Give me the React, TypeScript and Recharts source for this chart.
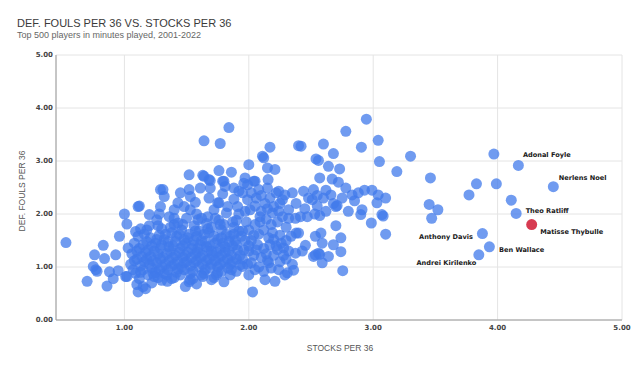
import React from 'react';
import { ScatterChart, Scatter, XAxis, YAxis, CartesianGrid } from 'recharts';

// [stocks per 36, def. fouls per 36]
const otherPlayers: [number, number][] = [
  // far left edge
  [0.53, 1.46], [0.70, 0.73], [0.76, 1.23], [0.75, 1.01], [0.77, 0.95], [0.78, 0.92], [0.83, 1.41],
  [0.84, 1.16], [0.86, 0.64], [0.88, 0.91], [0.91, 0.78], [0.93, 1.23], [0.95, 0.93], [0.96, 1.58],
  [1.00, 2.00], [1.02, 1.81], [1.01, 0.82], [1.03, 1.36], [1.11, 0.53], [1.17, 0.59], [1.12, 2.15],
  [1.20, 1.99], [1.09, 1.67], [1.29, 2.46], [1.26, 1.89],
  // main blob
  [1.05, 1.05], [1.06, 1.25], [1.08, 1.45], [1.07, 0.95], [1.10, 1.15], [1.12, 1.35], [1.11, 1.58],
  [1.09, 0.88], [1.12, 0.78], [1.13, 1.72],
  [1.15, 0.95], [1.16, 1.10], [1.17, 1.28], [1.18, 1.48], [1.16, 1.62], [1.20, 1.05], [1.21, 1.20],
  [1.19, 0.85], [1.22, 1.40], [1.20, 1.78], [1.22, 0.98],
  [1.25, 0.90], [1.26, 1.08], [1.27, 1.25], [1.25, 1.45], [1.28, 1.60], [1.30, 1.00], [1.31, 1.18],
  [1.29, 1.35], [1.32, 1.52], [1.30, 1.72], [1.27, 0.80], [1.32, 0.88], [1.28, 2.00],
  [1.35, 0.95], [1.36, 1.12], [1.37, 1.30], [1.35, 1.48], [1.38, 1.65], [1.40, 1.05], [1.41, 1.22],
  [1.39, 1.40], [1.42, 1.58], [1.40, 1.80], [1.36, 1.95], [1.42, 0.90], [1.38, 0.78],
  [1.45, 0.85], [1.46, 1.00], [1.47, 1.18], [1.45, 1.35], [1.48, 1.52], [1.46, 1.70], [1.50, 1.10],
  [1.51, 1.28], [1.49, 1.45], [1.52, 1.62], [1.50, 1.92], [1.52, 0.72], [1.48, 0.95],
  [1.55, 0.92], [1.56, 1.08], [1.57, 1.25], [1.55, 1.42], [1.58, 1.58], [1.56, 1.78], [1.60, 1.00],
  [1.61, 1.18], [1.59, 1.35], [1.62, 1.50], [1.60, 1.68], [1.62, 0.85], [1.58, 2.00], [1.57, 2.22],
  [1.65, 0.95], [1.66, 1.12], [1.67, 1.30], [1.65, 1.48], [1.68, 1.65], [1.66, 1.82], [1.70, 1.05],
  [1.71, 1.22], [1.69, 1.40], [1.72, 1.58], [1.70, 1.75], [1.72, 0.80], [1.68, 2.30], [1.73, 1.92],
  [1.75, 1.00], [1.76, 1.18], [1.77, 1.35], [1.75, 1.52], [1.78, 1.70], [1.76, 1.88], [1.80, 1.10],
  [1.81, 1.28], [1.79, 1.45], [1.82, 1.62], [1.80, 1.80], [1.78, 0.92], [1.82, 2.02], [1.79, 2.38],
  [1.85, 1.05], [1.86, 1.22], [1.87, 1.40], [1.85, 1.58], [1.88, 1.75], [1.90, 1.15], [1.91, 1.32],
  [1.89, 1.50], [1.92, 1.68], [1.90, 1.88], [1.86, 0.95], [1.92, 2.00], [1.88, 2.28],
  [1.95, 1.15], [1.96, 1.32], [1.97, 1.50], [1.95, 1.68], [1.98, 1.85], [1.99, 1.05], [2.00, 1.40],
  [1.97, 2.05], [1.96, 2.58],
  // blob core, overlapping
  [1.08, 1.12], [1.10, 1.30], [1.13, 1.02], [1.14, 1.20], [1.15, 1.42], [1.18, 1.15], [1.19, 1.32],
  [1.21, 1.55], [1.23, 1.12], [1.24, 1.30], [1.26, 1.52], [1.28, 0.95], [1.29, 1.15], [1.30, 1.42],
  [1.33, 1.05], [1.34, 1.25], [1.33, 1.62], [1.36, 1.38], [1.38, 1.02], [1.39, 1.18], [1.41, 1.48],
  [1.43, 1.10], [1.44, 1.28], [1.44, 1.62], [1.47, 1.40], [1.48, 1.08], [1.49, 1.22], [1.51, 1.55],
  [1.53, 1.02], [1.54, 1.18], [1.54, 1.35], [1.56, 1.50], [1.58, 1.12], [1.59, 1.28], [1.61, 1.42],
  [1.63, 1.05], [1.63, 1.22], [1.64, 1.62], [1.66, 1.38], [1.68, 1.15], [1.69, 0.98], [1.70, 1.30],
  [1.73, 1.45], [1.73, 1.12], [1.74, 1.28], [1.77, 1.05], [1.78, 1.22], [1.78, 1.55], [1.81, 1.38],
  [1.83, 1.15], [1.84, 1.48], [1.84, 1.30], [1.87, 1.10], [1.88, 1.62], [1.90, 1.42], [1.93, 1.22],
  [1.94, 1.58], [1.13, 0.90], [1.23, 0.88], [1.34, 0.85], [1.43, 0.96], [1.53, 0.88], [1.64, 0.88],
  [1.74, 0.85], [1.83, 0.98], [1.18, 1.70], [1.27, 1.78], [1.37, 1.75], [1.47, 1.80], [1.57, 1.68],
  [1.67, 1.72], [1.77, 1.80], [1.87, 1.85], [1.62, 1.92], [1.40, 1.92],
  // upper part of blob
  [1.31, 2.46], [1.32, 2.33], [1.45, 2.40], [1.52, 2.46], [1.61, 2.49], [1.69, 2.49], [1.81, 2.52],
  [1.88, 2.49], [1.95, 2.40], [1.99, 2.27], [1.76, 2.21], [1.83, 2.14], [1.91, 2.14], [2.01, 2.08],
  [1.11, 2.14], [1.29, 2.14], [1.40, 2.08], [1.48, 2.14], [1.53, 2.08], [1.43, 1.83], [1.59, 1.89],
  [1.67, 1.95], [1.72, 2.08], [1.64, 2.71], [1.43, 2.21], [1.53, 2.33], [1.68, 2.65], [1.79, 2.62],
  [1.92, 2.43], [1.75, 2.21],
  // bottom of blob
  [1.49, 0.63], [1.345, 0.73], [1.63, 0.82], [1.85, 0.85], [1.95, 1.01], [1.75, 0.89], [1.24, 0.82],
  [1.02, 0.82], [1.10, 0.67], [1.15, 0.63], [1.22, 0.70], [1.30, 0.75], [1.40, 0.80], [1.55, 0.78],
  [1.70, 0.76], [1.80, 0.72], [1.90, 0.92], [2.00, 0.85], [1.58, 0.68], [1.53, 0.76], [1.93, 1.04],
  // upper scattered
  [1.84, 3.63], [1.64, 3.38], [1.77, 3.33], [2.00, 2.93], [2.11, 3.09], [2.12, 3.06], [2.17, 3.26],
  [2.40, 3.29], [2.42, 3.28], [2.60, 3.32], [2.68, 3.14], [2.78, 3.56], [2.945, 3.79], [2.905, 3.26],
  [3.04, 3.39], [3.05, 2.99], [3.19, 2.80], [3.30, 3.09], [2.54, 3.04], [2.56, 3.01], [2.64, 2.90],
  [2.73, 2.85], [2.15, 2.87], [2.21, 2.84], [1.52, 2.74], [1.63, 2.73], [1.76, 2.82], [1.86, 2.79],
  [1.69, 2.63], [1.80, 2.62], [1.97, 2.68], [2.04, 2.62], [2.08, 2.46], [2.15, 2.49], [2.155, 2.65],
  // second cluster
  [2.57, 2.68], [2.67, 2.66], [2.72, 2.60], [2.78, 2.49], [2.83, 2.36], [2.93, 2.45], [2.99, 2.45],
  [3.04, 2.36], [3.10, 2.30], [3.03, 2.21], [3.07, 1.99], [3.08, 1.96], [3.10, 1.62], [2.985, 1.83],
  [2.90, 1.99], [2.91, 2.08], [2.80, 2.05], [2.70, 2.14], [2.71, 2.16], [2.70, 1.78], [2.74, 1.55],
  [2.74, 1.29], [2.755, 0.93], [2.68, 1.42], [2.66, 2.36], [2.57, 1.97], [2.58, 1.64], [2.535, 1.58],
  [2.59, 1.45], [2.52, 1.20], [2.59, 1.08], [2.56, 1.26], [2.57, 1.24], [2.455, 1.41], [2.40, 1.64],
  [2.415, 1.95], [2.47, 1.95], [2.375, 1.92], [2.32, 1.92], [2.51, 2.27], [2.44, 2.43], [2.52, 2.46],
  [2.35, 2.40], [2.29, 2.36], [2.24, 2.43], [2.27, 2.27], [2.32, 2.08], [2.20, 2.14], [2.19, 2.02],
  [2.09, 1.95], [2.05, 2.62], [2.38, 1.64], [2.28, 1.36], [2.375, 1.26], [2.23, 1.33], [2.20, 1.52],
  [2.16, 1.08], [2.05, 0.95], [2.13, 0.76], [2.21, 0.73], [2.29, 0.85], [2.36, 0.94], [2.03, 0.53],
  [2.535, 1.23], [2.64, 1.20], [2.31, 0.89],
  [1.99, 2.55], [2.02, 2.40], [2.06, 2.30], [2.10, 2.35], [2.13, 2.20], [2.17, 2.30], [2.22, 2.40],
  [2.25, 2.20], [2.05, 2.15], [2.10, 2.05], [2.14, 1.90], [2.18, 1.80], [2.23, 1.85], [2.27, 1.95],
  [2.30, 1.75], [2.05, 1.80], [2.00, 1.70], [2.08, 1.62], [2.12, 1.70], [2.16, 1.55], [2.25, 1.60],
  [2.30, 1.50], [2.34, 1.58], [2.02, 1.50], [2.07, 1.42], [2.12, 1.35], [2.17, 1.42], [2.26, 1.45],
  [2.32, 1.30], [2.00, 1.30], [2.04, 1.22], [2.10, 1.18], [2.14, 1.25], [2.20, 1.22], [2.25, 1.10],
  [2.30, 1.15], [2.35, 1.05], [2.02, 1.08], [2.08, 1.00], [2.12, 0.92], [2.18, 0.98], [2.24, 0.95],
  [2.45, 2.10], [2.38, 2.20], [2.48, 2.30], [2.55, 2.15], [2.60, 2.30], [2.62, 2.05], [2.53, 2.00],
  [2.85, 2.25], [2.88, 2.40], [2.75, 2.30], [2.62, 2.45], [2.55, 2.35], [2.68, 2.20], [2.43, 1.30],
  [2.06, 1.32], [2.15, 1.12], [2.22, 1.40], [2.28, 1.22], [2.04, 1.60], [2.19, 1.65], [2.09, 1.85],
  [2.15, 2.10], [2.24, 2.05],
  // right side
  [3.46, 2.68], [3.97, 3.13], [3.83, 2.57], [3.77, 2.36], [3.99, 2.57], [4.11, 2.26], [3.45, 2.18],
  [3.52, 2.08], [3.47, 1.92],
];

const labeledNames = ['Adonal Foyle', 'Nerlens Noel', 'Theo Ratliff', 'Anthony Davis', 'Ben Wallace', 'Andrei Kirilenko'];
const labeledStocks = [4.167, 4.448, 4.149, 3.878, 3.934, 3.849];
const labeledFouls = [2.917, 2.515, 2.01, 1.63, 1.38, 1.23];

const highlightName = 'Matisse Thybulle';
const highlightStocks = 4.274;
const highlightFouls = 1.8;

const xTicks = [1, 2, 3, 4, 5];
const yTicks = [0, 1, 2, 3, 4, 5];

// label placement next to each named dot (px)
const labelOffsets: Record<string, { dx: number; dy: number; anchor: 'start' | 'end' }> = {
  'Adonal Foyle': { dx: 4.5, dy: -10, anchor: 'start' },
  'Nerlens Noel': { dx: 5.5, dy: -8.5, anchor: 'start' },
  'Theo Ratliff': { dx: 9.5, dy: -2.5, anchor: 'start' },
  'Anthony Davis': { dx: -9.5, dy: 3.5, anchor: 'end' },
  'Ben Wallace': { dx: 9.5, dy: 2.8, anchor: 'start' },
  'Andrei Kirilenko': { dx: -2.5, dy: 8, anchor: 'end' },
  'Matisse Thybulle': { dx: 8.5, dy: 7.5, anchor: 'start' },
};

const others = otherPlayers.map(([x, y]) => ({ x, y }));
const labeled = labeledNames.map((name, i) => ({ name, x: labeledStocks[i], y: labeledFouls[i] }));
const highlight = [{ name: highlightName, x: highlightStocks, y: highlightFouls }];

const BLUE = '#407aeb';
const R = 5.5;

const PlainDot = (props: any) => (
  <circle cx={props.cx} cy={props.cy} r={R} fill={BLUE} fillOpacity={0.75} />
);

function makeLabeledDot(color: string, opacity: number) {
  return (props: any) => {
    const { cx, cy, payload } = props;
    const off = labelOffsets[payload.name];
    return (
      <g>
        <circle cx={cx} cy={cy} r={R} fill={color} fillOpacity={opacity} />
        {off && (
          <text
            x={cx + off.dx}
            y={cy + off.dy}
            textAnchor={off.anchor}
            dominantBaseline="central"
            fontFamily="DejaVu Sans"
            fontWeight={700}
            fontSize={6.6}
            fill="#1a1a1a"
          >
            {payload.name}
          </text>
        )}
      </g>
    );
  };
}

const tickStyle = { fontSize: 7, fontFamily: 'DejaVu Sans', fontWeight: 700, fill: '#444' };

export default function App() {
  return (
    <div style={{ position: 'absolute', left: 0, top: 0, width: 640, height: 369, background: '#fff' }}>
      <ScatterChart width={640} height={369} margin={{ top: 55, right: 18, bottom: 19, left: 0 }}>
        <CartesianGrid stroke="#e4e4e4" />
        <XAxis
          type="number"
          dataKey="x"
          domain={[0.45, 5]}
          ticks={xTicks}
          tickFormatter={(v: number) => v.toFixed(2)}
          allowDataOverflow
          height={30}
          tickSize={0}
          tickMargin={5}
          tickLine={false}
          axisLine={{ stroke: '#9a9a9a' }}
          tick={tickStyle}
        />
        <YAxis
          type="number"
          dataKey="y"
          domain={[0, 5]}
          ticks={yTicks}
          tickFormatter={(v: number) => v.toFixed(2)}
          allowDataOverflow
          width={56}
          tickSize={0}
          tickMargin={3}
          tickLine={false}
          axisLine={{ stroke: '#9a9a9a' }}
          tick={tickStyle}
        />
        <Scatter data={others} shape={PlainDot} isAnimationActive={false} />
        <Scatter data={labeled} shape={makeLabeledDot(BLUE, 0.75)} isAnimationActive={false} />
        <Scatter data={highlight} shape={makeLabeledDot('#d42a42', 0.92)} isAnimationActive={false} />
      </ScatterChart>
      <svg
        width={640}
        height={369}
        style={{ position: 'absolute', left: 0, top: 0, pointerEvents: 'none' }}
      >
        <text x={17} y={27} fontFamily="Liberation Sans" fontSize={11} fill="#3a3a3a">
          DEF. FOULS PER 36 VS. STOCKS PER 36
        </text>
        <text x={17} y={37.5} fontFamily="Liberation Sans" fontSize={9} fill="#666">
          Top 500 players in minutes played, 2001-2022
        </text>
        <text
          x={21.5}
          y={191}
          transform="rotate(-90 21.5 191)"
          textAnchor="middle"
          dominantBaseline="central"
          fontFamily="Liberation Sans"
          fontSize={8.5}
          fill="#555"
        >
          DEF. FOULS PER 36
        </text>
        <text
          x={340}
          y={348}
          textAnchor="middle"
          dominantBaseline="central"
          fontFamily="Liberation Sans"
          fontSize={8.5}
          fill="#555"
        >
          STOCKS PER 36
        </text>
      </svg>
    </div>
  );
}
